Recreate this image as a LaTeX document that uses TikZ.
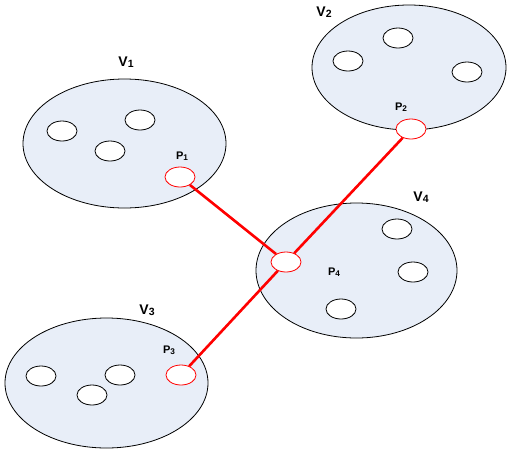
\documentclass[tikz,border=0pt]{standalone}
\usepackage{fontspec}
\setmainfont{Liberation Sans}
\usetikzlibrary{shapes.geometric}
\definecolor{regionfill}{RGB}{232,238,248}
\definecolor{linkred}{RGB}{255,0,0}
\tikzset{
  region/.style={ellipse, draw=black, line width=0.8pt, fill=regionfill, inner sep=0pt},
  hole/.style={ellipse, draw=black, line width=0.8pt, fill=white, minimum width=30pt, minimum height=20pt, inner sep=0pt},
  port/.style={ellipse, draw=linkred, line width=0.8pt, fill=white, minimum width=30pt, minimum height=20pt, inner sep=0pt},
  vlabel/.style={font=\fontsize{14}{14}\selectfont\bfseries, inner sep=0pt},
  plabel/.style={font=\fontsize{11}{11}\selectfont\bfseries, inner sep=0pt},
  link/.style={draw=linkred, line width=2.6pt}
}
\newcommand{\lab}[2]{#1\raisebox{-0.15ex}{\scalebox{0.75}{#2}}}
\begin{document}
\begin{tikzpicture}[x=1pt,y=-1pt]
\useasboundingbox (0,0) rectangle (511,456);
% regions
\node[region, minimum width=203pt, minimum height=129pt] (v1) at (124.5,143.5) {};
\node[region, minimum width=194pt, minimum height=125pt] (v2) at (409,67.5) {};
\node[region, minimum width=201pt, minimum height=135pt] (v4) at (356.5,270.5) {};
\node[region, minimum width=203pt, minimum height=130pt] (v3) at (106.5,383) {};
% holes
\node[hole] (h11) at (62,131) {};
\node[hole] (h12) at (140,120) {};
\node[hole] (h13) at (110,151) {};
\node[hole] (h21) at (398,38) {};
\node[hole] (h22) at (348,61) {};
\node[hole] (h23) at (467,72) {};
\node[hole] (h41) at (397,229) {};
\node[hole] (h42) at (413,272) {};
\node[hole] (h43) at (341,309) {};
\node[hole] (h31) at (41,376) {};
\node[hole] (h32) at (120,375) {};
\node[hole] (h33) at (92,395) {};
% ports
\node[port] (p1) at (180,177) {};
\node[port] (p2) at (411,129) {};
\node[port] (p4) at (286,262) {};
\node[port] (p3) at (181,375) {};
% links
\draw[link] (p1) -- (p4);
\draw[link] (p2) -- (p4);
\draw[link] (p3) -- (p4);
% labels
\node[vlabel] (lv1) at (126,62) {\lab{V}{1}};
\node[vlabel] (lv2) at (324,12) {\lab{V}{2}};
\node[vlabel] (lv4) at (421,197) {\lab{V}{4}};
\node[vlabel] (lv3) at (147,310) {\lab{V}{3}};
\node[plabel] (lp1) at (182,156) {\lab{P}{1}};
\node[plabel] (lp2) at (401,107) {\lab{P}{2}};
\node[plabel] (lp4) at (334,272) {\lab{P}{4}};
\node[plabel] (lp3) at (169,350) {\lab{P}{3}};
\end{tikzpicture}
\end{document}
